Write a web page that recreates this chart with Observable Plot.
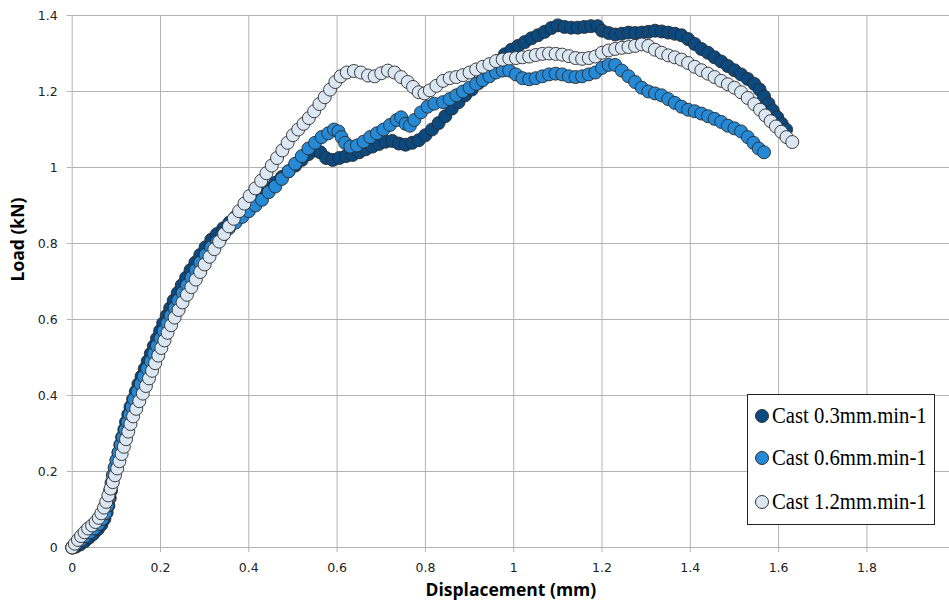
<!DOCTYPE html>
<html><head><meta charset="utf-8">
<script src="https://cdn.jsdelivr.net/npm/d3@7"></script>
<script src="https://cdn.jsdelivr.net/npm/@observablehq/plot@0.6"></script>
<style>
body{margin:0;background:#fff}
#wrap{position:relative;width:949px;height:605px}
#legend{position:absolute;left:747px;top:394px;width:186px;height:129px;border:1px solid #222;background:#fff;font-family:"Liberation Serif","Times New Roman",serif;color:#000}
.row{position:absolute;left:6.5px;height:20px;display:flex;align-items:center}
.sw{width:14px;height:14px;border-radius:50%;border:1px solid #333;box-sizing:border-box;margin-right:3px;flex:none}
.lab{font-size:23px;transform:scaleX(0.9);transform-origin:left center;white-space:nowrap;display:inline-block}
</style></head>
<body><div id="wrap"></div>
<script>
const xTicks = [0,0.2,0.4,0.6,0.8,1,1.2,1.4,1.6,1.8];
const yTicks = [0,0.2,0.4,0.6,0.8,1,1.2,1.4];
const seriesNames = ["Cast 0.3mm.min-1","Cast 0.6mm.min-1","Cast 1.2mm.min-1"];
const seriesFills = ["#0b4a80","#2589d6","#dbe7f3"];

const cast03 = [[0,0],[0.008,0.002],[0.018,0.008],[0.028,0.016],[0.038,0.026],[0.048,0.036],[0.058,0.048],[0.066,0.06],[0.073,0.075],[0.078,0.092],[0.082,0.11],[0.085,0.13],[0.088,0.15],[0.091,0.17],[0.094,0.19],[0.097,0.21],[0.101,0.23],[0.105,0.25],[0.109,0.27],[0.113,0.29],[0.118,0.31],[0.122,0.33],[0.127,0.35],[0.132,0.37],[0.138,0.39],[0.144,0.41],[0.15,0.43],[0.157,0.45],[0.164,0.47],[0.171,0.49],[0.178,0.51],[0.185,0.53],[0.192,0.55],[0.199,0.57],[0.206,0.59],[0.214,0.61],[0.222,0.63],[0.23,0.65],[0.239,0.67],[0.248,0.69],[0.258,0.71],[0.268,0.73],[0.279,0.75],[0.29,0.77],[0.302,0.79],[0.315,0.81],[0.328,0.825],[0.342,0.84],[0.356,0.855],[0.37,0.87],[0.385,0.885],[0.4,0.9],[0.415,0.915],[0.43,0.93],[0.445,0.945],[0.46,0.96],[0.475,0.975],[0.49,0.99],[0.505,1.005],[0.52,1.02],[0.535,1.035],[0.55,1.045],[0.562,1.04],[0.575,1.025],[0.59,1.02],[0.605,1.025],[0.62,1.03],[0.635,1.033],[0.65,1.04],[0.665,1.048],[0.68,1.055],[0.695,1.062],[0.71,1.068],[0.725,1.07],[0.74,1.063],[0.755,1.06],[0.77,1.065],[0.785,1.072],[0.8,1.085],[0.815,1.1],[0.83,1.117],[0.845,1.135],[0.86,1.155],[0.875,1.172],[0.89,1.19],[0.905,1.205],[0.92,1.222],[0.935,1.24],[0.95,1.26],[0.965,1.28],[0.98,1.298],[0.995,1.31],[1.01,1.32],[1.025,1.33],[1.04,1.34],[1.055,1.348],[1.07,1.357],[1.085,1.367],[1.1,1.374],[1.115,1.37],[1.13,1.368],[1.145,1.368],[1.16,1.37],[1.175,1.372],[1.19,1.372],[1.2,1.36],[1.215,1.354],[1.23,1.35],[1.245,1.352],[1.26,1.355],[1.275,1.354],[1.29,1.355],[1.305,1.357],[1.32,1.36],[1.335,1.358],[1.35,1.355],[1.365,1.352],[1.38,1.348],[1.395,1.338],[1.41,1.325],[1.425,1.312],[1.44,1.302],[1.455,1.29],[1.47,1.279],[1.485,1.267],[1.5,1.256],[1.515,1.245],[1.53,1.233],[1.545,1.22],[1.557,1.205],[1.567,1.187],[1.577,1.168],[1.587,1.15],[1.597,1.132],[1.607,1.115],[1.617,1.1]];

const cast06 = [[0,0],[0.005,0.005],[0.012,0.012],[0.02,0.02],[0.03,0.03],[0.04,0.04],[0.05,0.05],[0.06,0.062],[0.068,0.075],[0.075,0.09],[0.08,0.11],[0.083,0.13],[0.086,0.15],[0.089,0.17],[0.092,0.19],[0.096,0.21],[0.1,0.23],[0.105,0.25],[0.11,0.27],[0.115,0.29],[0.12,0.31],[0.125,0.33],[0.13,0.35],[0.135,0.37],[0.14,0.39],[0.148,0.41],[0.155,0.43],[0.162,0.45],[0.17,0.47],[0.178,0.49],[0.185,0.51],[0.192,0.53],[0.2,0.55],[0.207,0.57],[0.215,0.59],[0.223,0.61],[0.232,0.63],[0.24,0.65],[0.25,0.67],[0.26,0.69],[0.27,0.71],[0.28,0.73],[0.29,0.75],[0.302,0.77],[0.315,0.79],[0.328,0.805],[0.34,0.82],[0.355,0.84],[0.37,0.855],[0.385,0.87],[0.4,0.885],[0.415,0.9],[0.43,0.915],[0.445,0.935],[0.46,0.95],[0.475,0.97],[0.49,0.99],[0.505,1.01],[0.52,1.03],[0.535,1.05],[0.55,1.065],[0.565,1.08],[0.58,1.09],[0.593,1.1],[0.603,1.095],[0.61,1.08],[0.618,1.065],[0.63,1.055],[0.645,1.058],[0.66,1.068],[0.675,1.08],[0.69,1.09],[0.705,1.1],[0.72,1.112],[0.735,1.125],[0.745,1.132],[0.755,1.115],[0.765,1.11],[0.775,1.125],[0.79,1.145],[0.805,1.16],[0.82,1.168],[0.84,1.172],[0.855,1.18],[0.87,1.19],[0.885,1.2],[0.9,1.21],[0.915,1.22],[0.93,1.23],[0.945,1.24],[0.96,1.25],[0.975,1.255],[0.99,1.255],[1.005,1.245],[1.02,1.235],[1.035,1.232],[1.05,1.235],[1.065,1.24],[1.08,1.245],[1.095,1.247],[1.11,1.245],[1.125,1.24],[1.14,1.238],[1.155,1.24],[1.17,1.245],[1.185,1.25],[1.2,1.262],[1.215,1.27],[1.23,1.27],[1.245,1.255],[1.26,1.24],[1.275,1.225],[1.29,1.21],[1.305,1.2],[1.32,1.195],[1.335,1.19],[1.35,1.18],[1.365,1.17],[1.38,1.16],[1.395,1.152],[1.41,1.148],[1.425,1.142],[1.44,1.135],[1.455,1.128],[1.47,1.12],[1.485,1.11],[1.5,1.103],[1.515,1.095],[1.53,1.08],[1.543,1.065],[1.555,1.05],[1.567,1.04]];

const cast12 = [[0,0],[0.006,0.01],[0.013,0.02],[0.02,0.03],[0.028,0.04],[0.036,0.05],[0.045,0.058],[0.053,0.067],[0.06,0.078],[0.066,0.09],[0.072,0.105],[0.077,0.12],[0.082,0.137],[0.087,0.155],[0.092,0.172],[0.097,0.19],[0.102,0.208],[0.107,0.227],[0.112,0.246],[0.117,0.265],[0.122,0.285],[0.127,0.305],[0.132,0.325],[0.138,0.345],[0.145,0.365],[0.152,0.385],[0.16,0.405],[0.167,0.425],[0.174,0.445],[0.181,0.465],[0.188,0.485],[0.195,0.505],[0.202,0.525],[0.209,0.545],[0.216,0.565],[0.224,0.585],[0.232,0.605],[0.241,0.625],[0.25,0.645],[0.26,0.665],[0.27,0.685],[0.28,0.705],[0.29,0.725],[0.3,0.745],[0.311,0.765],[0.322,0.785],[0.333,0.805],[0.344,0.825],[0.355,0.845],[0.366,0.865],[0.378,0.885],[0.39,0.905],[0.402,0.925],[0.415,0.945],[0.428,0.965],[0.44,0.985],[0.452,1.005],[0.464,1.025],[0.476,1.045],[0.488,1.065],[0.5,1.085],[0.512,1.1],[0.524,1.115],[0.536,1.13],[0.548,1.148],[0.56,1.167],[0.572,1.185],[0.584,1.205],[0.596,1.225],[0.608,1.24],[0.622,1.25],[0.638,1.254],[0.654,1.25],[0.67,1.242],[0.685,1.24],[0.7,1.248],[0.715,1.255],[0.73,1.25],[0.745,1.238],[0.76,1.225],[0.772,1.212],[0.785,1.198],[0.798,1.195],[0.81,1.203],[0.825,1.215],[0.84,1.228],[0.855,1.235],[0.87,1.238],[0.885,1.243],[0.9,1.25],[0.915,1.258],[0.93,1.265],[0.945,1.272],[0.96,1.28],[0.975,1.284],[0.99,1.287],[1.005,1.288],[1.02,1.29],[1.035,1.292],[1.05,1.296],[1.065,1.299],[1.08,1.3],[1.095,1.299],[1.11,1.297],[1.125,1.293],[1.14,1.288],[1.155,1.286],[1.17,1.288],[1.185,1.292],[1.2,1.302],[1.215,1.308],[1.23,1.312],[1.245,1.315],[1.26,1.317],[1.275,1.32],[1.29,1.324],[1.305,1.32],[1.32,1.31],[1.335,1.302],[1.35,1.295],[1.365,1.29],[1.38,1.284],[1.395,1.275],[1.41,1.265],[1.425,1.256],[1.44,1.247],[1.455,1.238],[1.47,1.228],[1.485,1.219],[1.5,1.21],[1.515,1.198],[1.53,1.183],[1.545,1.167],[1.558,1.152],[1.57,1.137],[1.582,1.122],[1.594,1.108],[1.606,1.094],[1.618,1.08],[1.631,1.067]];

const allSeries = [cast03, cast06, cast12];
const gridColor = "#b2b2b2";

const dotMarks = allSeries.map((s, i) => Plot.dot(s, {
  x: d => d[0], y: d => d[1], r: 6.5,
  fill: seriesFills[i], stroke: "#2a2a2a", strokeWidth: 0.9
}));

const chart = Plot.plot({
  width: 949, height: 605,
  marginLeft: 71.7, marginRight: 0, marginTop: 15, marginBottom: 58,
  x: {domain: [0, 877.3 / 441.5]},
  y: {domain: [0, 1.4]},
  style: {fontFamily: "'DejaVu Sans', sans-serif", fontSize: "12.5px", color: "#222", background: "#fff"},
  marks: [
    Plot.ruleX(xTicks, {stroke: gridColor, strokeWidth: 1}),
    Plot.ruleY(yTicks, {stroke: gridColor, strokeWidth: 1}),
    Plot.axisX(xTicks, {tickFormat: d => String(d), tickSize: 5, tickPadding: 11, stroke: gridColor, label: null}),
    Plot.axisY(yTicks, {tickFormat: d => String(d), tickSize: 5, tickPadding: 9.5, stroke: gridColor, label: null}),
    ...dotMarks,
    Plot.text(["Displacement (mm)"], {frameAnchor: "bottom", dy: 48, text: d => d, fontWeight: "bold", fontSize: 17.5, fontFamily: "'Open Sans', sans-serif", fill: "#000"}),
    Plot.text(["Load (kN)"], {frameAnchor: "left", dx: -54, rotate: -90, text: d => d, fontWeight: "bold", fontSize: 17.5, fontFamily: "'Open Sans', sans-serif", fill: "#000"})
  ]
});
const wrap = document.getElementById("wrap");
wrap.appendChild(chart);

const legend = document.createElement("div");
legend.id = "legend";
const rowTops = [10.7, 53.3, 96.7];
seriesNames.forEach((name, i) => {
  const row = document.createElement("div");
  row.className = "row";
  row.style.top = rowTops[i] + "px";
  const sw = document.createElement("span");
  sw.className = "sw";
  sw.style.background = seriesFills[i];
  const lab = document.createElement("span");
  lab.className = "lab";
  lab.textContent = name;
  row.appendChild(sw); row.appendChild(lab);
  legend.appendChild(row);
});
wrap.appendChild(legend);
</script>
</body></html>
